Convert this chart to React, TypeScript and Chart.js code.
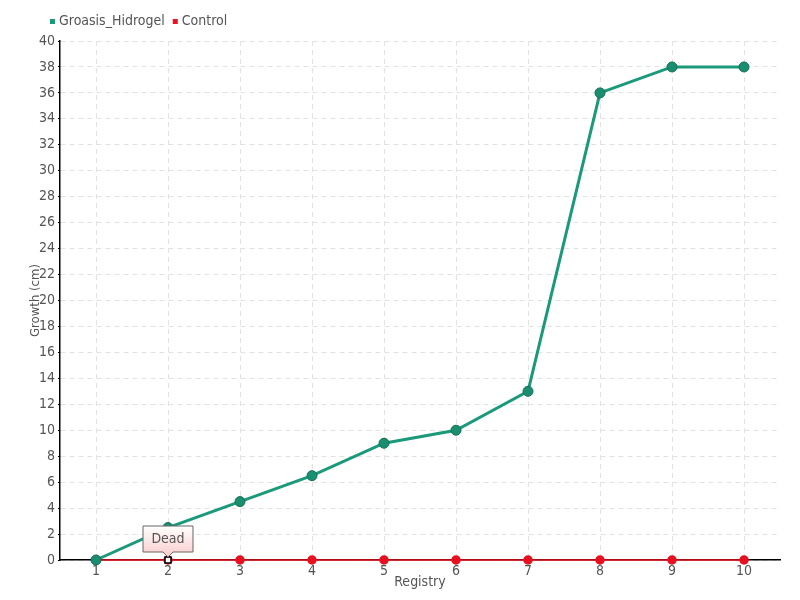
import React, { useEffect, useRef } from "react";
import { Chart, registerables } from "chart.js";

Chart.register(...registerables);

const categories = ["1", "2", "3", "4", "5", "6", "7", "8", "9", "10"];
const hidrogel = [0, 2.5, 4.5, 6.5, 9, 10, 13, 36, 38, 38];
const control = [0, 0, 0, 0, 0, 0, 0, 0, 0, 0];
const annotationIndex = 1;
const annotationText = "Dead";

const FONT = "'DejaVu Sans Condensed', 'DejaVu Sans', sans-serif";

const customPlugin = {
  id: "custom",
  afterDraw(chart: any) {
    const ctx = chart.ctx;
    ctx.save();
    ctx.font = "14px " + FONT;
    ctx.textBaseline = "middle";
    ctx.textAlign = "left";
    let x = 50;
    const y = 21;
    chart.data.datasets.forEach((ds: any) => {
      ctx.fillStyle = ds.backgroundColor;
      ctx.fillRect(x, y - 2, 5, 5);
      ctx.fillStyle = "#555";
      ctx.fillText(ds.label, x + 9, y);
      x += 9 + ctx.measureText(ds.label).width + 8;
    });
    ctx.restore();
  },
  afterDatasetsDraw(chart: any) {
    const ctx = chart.ctx;
    const x = chart.scales.x.getPixelForValue(annotationIndex);
    const y = chart.scales.y.getPixelForValue(control[annotationIndex]);
    ctx.save();
    ctx.fillStyle = "#fff";
    ctx.strokeStyle = "#000";
    ctx.lineWidth = 1.5;
    ctx.fillRect(x - 3, y - 3, 6, 6);
    ctx.strokeRect(x - 3, y - 3, 6, 6);
    const w = 50, h = 26;
    const bx = x - 25, by = y - 34;
    const g = ctx.createLinearGradient(0, by, 0, by + h);
    g.addColorStop(0, "#ffffff");
    g.addColorStop(1, "#fbd3d3");
    ctx.beginPath();
    ctx.moveTo(bx, by);
    ctx.lineTo(bx + w, by);
    ctx.lineTo(bx + w, by + h);
    ctx.lineTo(x + 5, by + h);
    ctx.lineTo(x, by + h + 5);
    ctx.lineTo(x - 5, by + h);
    ctx.lineTo(bx, by + h);
    ctx.closePath();
    ctx.fillStyle = g;
    ctx.fill();
    ctx.strokeStyle = "#666";
    ctx.lineWidth = 1;
    ctx.stroke();
    ctx.fillStyle = "#555";
    ctx.font = "14px " + FONT;
    ctx.textAlign = "center";
    ctx.textBaseline = "middle";
    ctx.fillText(annotationText, x, by + h / 2);
    ctx.restore();
  },
};

export default function App() {
  const ref = useRef<HTMLCanvasElement>(null);
  useEffect(() => {
    const chart = new Chart(ref.current!, {
      type: "line",
      data: {
        labels: categories,
        datasets: [
          {
            label: "Groasis_Hidrogel",
            data: hidrogel,
            borderColor: "#1a9a7a",
            backgroundColor: "#1a9a7a",
            pointBackgroundColor: "#1a8f70",
            pointBorderColor: "#156e57",
            pointBorderWidth: 1,
            pointRadius: 5,
            borderWidth: 3,
            tension: 0,
            clip: false,
          },
          {
            label: "Control",
            data: control,
            borderColor: "#ee1122",
            backgroundColor: "#ee1122",
            pointBackgroundColor: "#e8101f",
            pointBorderColor: "#e8101f",
            pointRadius: 4,
            borderWidth: 1.5,
            tension: 0,
            clip: false,
          },
        ],
      },
      options: {
        animation: false,
        responsive: false,
        layout: { padding: { left: 28, right: 20, top: 41, bottom: 9 } },
        plugins: {
          tooltip: { enabled: false },
          legend: { display: false },
        },
        scales: {
          x: {
            offset: true,
            grid: {
              color: "#e2e2e2",
              drawTicks: false,
              offset: false,
            },
            border: { color: "#000", width: 1.5, dash: [5, 4] },
            ticks: { color: "#555", font: { family: FONT, size: 14 }, padding: 3 },
            title: {
              display: true,
              text: "Registry",
              color: "#555",
              font: { family: FONT, size: 14 },
              padding: 0,
            },
            afterFit(s: any) {
              s.height = 31;
            },
          },
          y: {
            min: 0,
            max: 40,
            ticks: { stepSize: 2, color: "#555", font: { family: FONT, size: 14 }, padding: 3 },
            grid: {
              color: "#e2e2e2",
              tickColor: "#000",
              tickLength: 2,
              tickBorderDash: [],
            },
            border: { color: "#000", width: 1.5, dash: [5, 4] },
            title: {
              display: true,
              text: "Growth (cm)",
              color: "#555",
              font: { family: FONT, size: 13 },
              padding: 0,
            },
            afterFit(s: any) {
              s.width = 32;
            },
          },
        },
      },
      plugins: [customPlugin],
    });
    return () => chart.destroy();
  }, []);
  return (
    <div style={{ position: "fixed", left: 0, top: 0, width: 800, height: 600, background: "#fff" }}>
      <canvas ref={ref} width={800} height={600} />
    </div>
  );
}
